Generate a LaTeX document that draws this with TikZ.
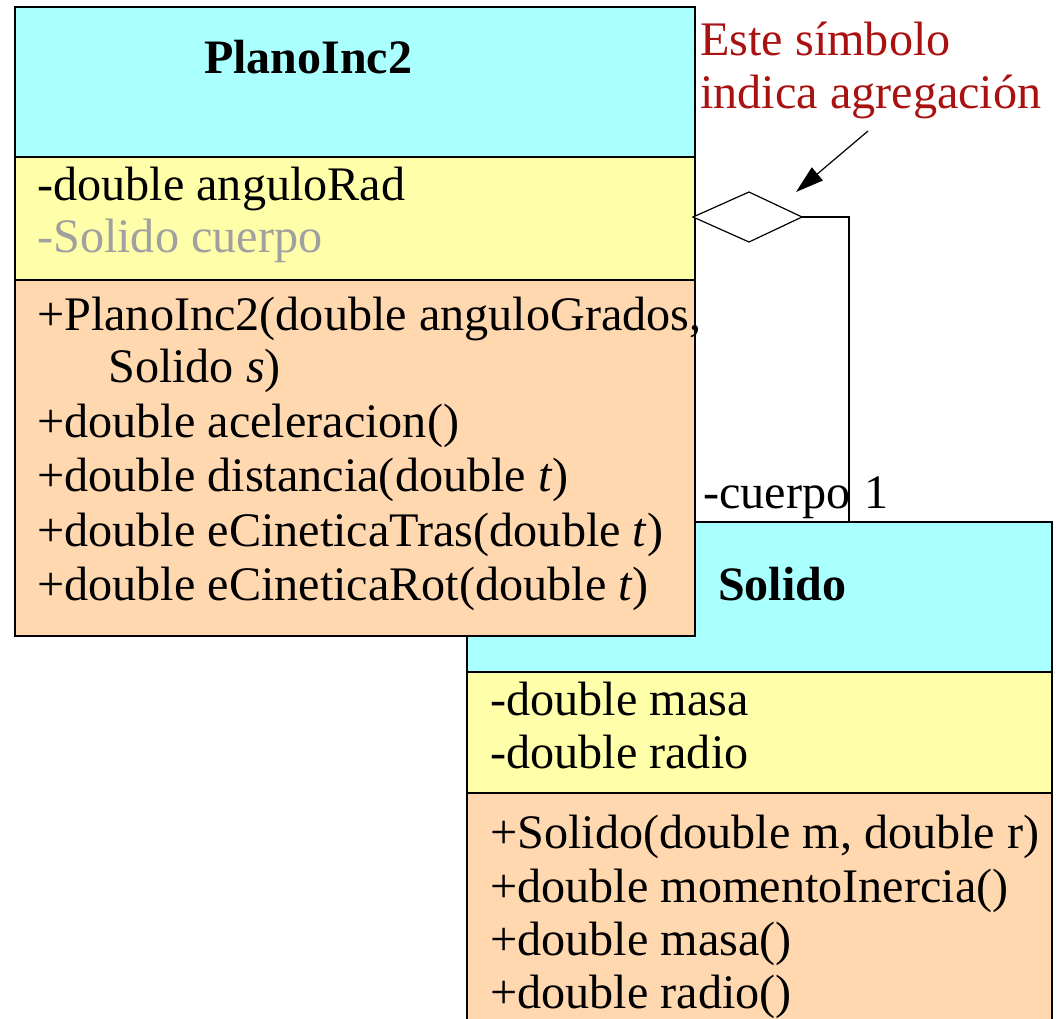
\documentclass[tikz,border=0pt]{standalone}
\usepackage{fontspec}
\setmainfont{Liberation Serif}
\usetikzlibrary{arrows.meta}
\definecolor{hdrcol}{RGB}{170,255,255}
\definecolor{attcol}{RGB}{255,255,170}
\definecolor{metcol}{RGB}{255,216,176}
\definecolor{notecol}{RGB}{170,17,17}
\definecolor{greycol}{RGB}{160,160,160}
\tikzset{
  part/.style={draw=black, line width=2pt, inner sep=0pt, outer sep=0pt, anchor=north west},
  txt/.style={anchor=base west, inner sep=0pt, font=\fontsize{48.2}{54}\selectfont},
  ttl/.style={txt, font=\fontsize{48}{54}\selectfont\bfseries},
}
\begin{document}
\begin{tikzpicture}[x=1pt,y=-1pt]
\useasboundingbox (0,0) rectangle (1063,1018);
\clip (0,0) rectangle (1063,1018);
\fill[white] (0,0) rectangle (1063,1018);
% Solido box (behind)
\node[part, fill=hdrcol, minimum width=585pt, minimum height=150pt] (sHead) at (467,522) {};
\node[part, fill=attcol, minimum width=585pt, minimum height=121pt] (sAtt) at (467,672) {};
\node[part, fill=metcol, minimum width=585pt, minimum height=260pt] (sMet) at (467,793) {};
\node[ttl] (sTitle) at (718,600) {Solido};
\node[txt] (sa1) at (490,715) {-double masa};
\node[txt] (sa2) at (490,768) {-double radio};
\node[txt] (sm1) at (490,848) {+Solido(double m, double r)};
\node[txt] (sm2) at (490,902) {+double momentoInercia()};
\node[txt] (sm3) at (490,955) {+double masa()};
\node[txt] (sm4) at (490,1008) {+double radio()};
% PlanoInc2 box (front)
\node[part, fill=hdrcol, minimum width=680pt, minimum height=150pt] (pHead) at (15,7) {};
\node[part, fill=attcol, minimum width=680pt, minimum height=123pt] (pAtt) at (15,157) {};
\node[part, fill=metcol, minimum width=680pt, minimum height=356pt] (pMet) at (15,280) {};
\node[ttl] (pTitle) at (204,73) {PlanoInc2};
\node[txt] (pa1) at (37,200) {-double anguloRad};
\node[txt, text=greycol] (pa2) at (37,252) {-Solido cuerpo};
\node[txt] (pm1) at (37,330) {+PlanoInc2(double anguloGrados,};
\node[txt] (pm1b) at (108,382) {Solido \textit{s})};
\node[txt] (pm2) at (37,437) {+double aceleracion()};
\node[txt] (pm3) at (37,491) {+double distancia(double \textit{t})};
\node[txt] (pm4) at (37,546) {+double eCineticaTras(double \textit{t})};
\node[txt] (pm5) at (37,600) {+double eCineticaRot(double \textit{t})};
% aggregation
\coordinate (dL) at (693,217);
\coordinate (dT) at (749,192);
\coordinate (dR) at (802,217);
\coordinate (dB) at (749,242);
\fill[white] (dL) -- (dT) -- (dR) -- (dB) -- cycle;
\draw[line width=1.2pt, line join=miter] (dL) -- (dT) -- (dR) -- (dB) -- cycle;
\coordinate (sTop) at (849,522);
\draw[line width=2pt] (dR) -| (sTop);
\node[txt] (role) at (703,508) {-cuerpo};
\node[txt] (mult) at (864,508) {1};
% note
\node[txt, text=notecol] (note1) at (700,55) {Este símbolo};
\node[txt, text=notecol] (note2) at (700,108) {indica agregación};
\coordinate (arrS) at (868,131);
\coordinate (arrE) at (796,192);
\draw[line width=1.2pt, -{Triangle[length=28pt,width=17pt]}] (arrS) -- (arrE);
\end{tikzpicture}
\end{document}
